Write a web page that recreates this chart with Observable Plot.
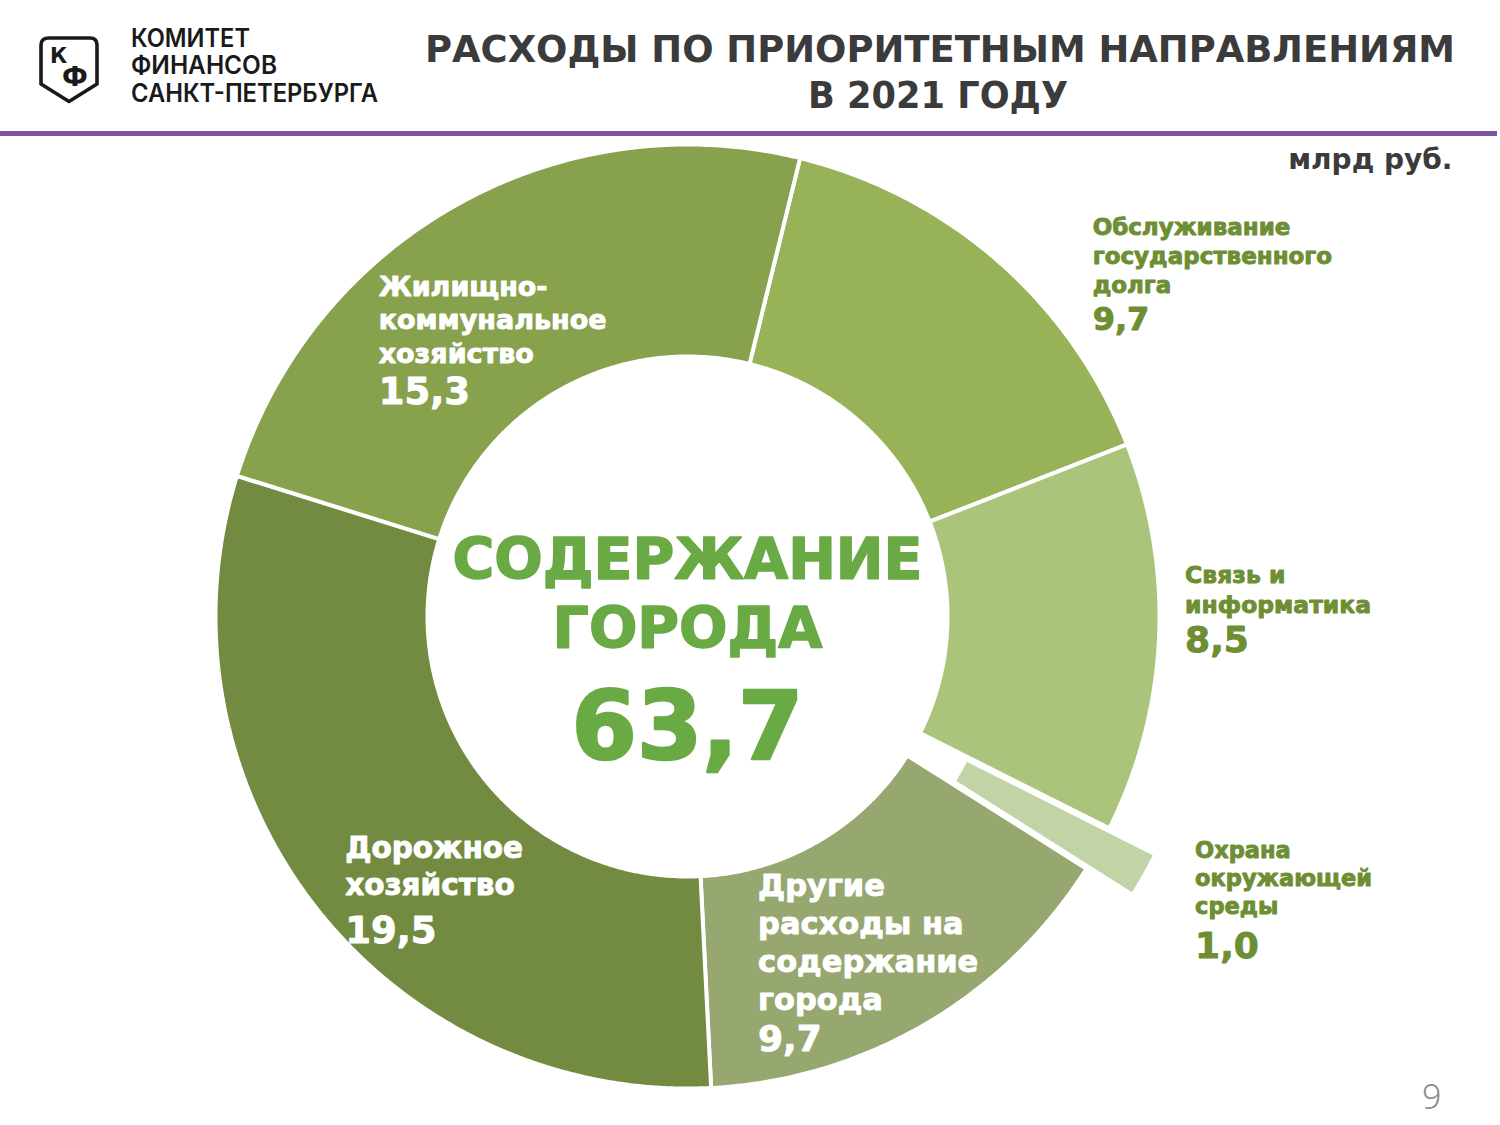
<!DOCTYPE html>
<html>
<head>
<meta charset="utf-8">
<script src="https://cdn.jsdelivr.net/npm/d3@7"></script>
<script src="https://cdn.jsdelivr.net/npm/@observablehq/plot@0.6"></script>
<style>
  html, body { margin: 0; padding: 0; background: #ffffff; }
  #page { position: relative; width: 1500px; height: 1125px; overflow: hidden; background: #ffffff; }
  #header { position: absolute; left: 0; top: 0; }
  #chart { position: absolute; left: 0; top: 140px; }
</style>
</head>
<body>
<div id="page">
  <svg id="header" width="1500" height="140" viewBox="0 0 1500 140" xmlns="http://www.w3.org/2000/svg">
    <path d="M49,38 H90 Q97,38 97,45 V84 L69,101.5 L41,84 V45 Q41,38 49,38 Z" fill="none" stroke="#1a1a1a" stroke-width="3.6" stroke-linejoin="round"/>
    <text font-family="DejaVu Sans" font-weight="bold" fill="#1a1a1a"><tspan x="50" y="63" font-size="21">К</tspan><tspan x="62" y="86" font-size="26">Ф</tspan></text>
    <g font-family="Inter, 'Noto Sans', sans-serif" font-weight="600" font-size="25" fill="#1a1a1a">
      <text x="131" y="47" textLength="119" lengthAdjust="spacingAndGlyphs">КОМИТЕТ</text>
      <text x="131" y="74" textLength="146" lengthAdjust="spacingAndGlyphs">ФИНАНСОВ</text>
      <text x="131" y="101.5" textLength="247" lengthAdjust="spacingAndGlyphs">САНКТ-ПЕТЕРБУРГА</text>
    </g>
    <g font-family="DejaVu Sans" font-weight="bold" font-size="37" fill="#3b3b3b" text-anchor="middle">
      <text x="940" y="62" textLength="1030" lengthAdjust="spacingAndGlyphs">РАСХОДЫ ПО ПРИОРИТЕТНЫМ НАПРАВЛЕНИЯМ</text>
      <text x="938" y="108" textLength="260" lengthAdjust="spacingAndGlyphs">В 2021 ГОДУ</text>
    </g>
    <rect x="0" y="131" width="1497" height="5" fill="#7b54a2"/>
  </svg>
  <div id="chart"></div>
</div>
<script>
// ---------- DATA ----------
const categories = [
  "Обслуживание государственного долга",
  "Связь и информатика",
  "Охрана окружающей среды",
  "Другие расходы на содержание города",
  "Дорожное хозяйство",
  "Жилищно-коммунальное хозяйство"
];
const labelTexts = [
  "Обслуживание\nгосударственного\nдолга",
  "Связь и\nинформатика",
  "Охрана\nокружающей\nсреды",
  "Другие\nрасходы на\nсодержание\nгорода",
  "Дорожное\nхозяйство",
  "Жилищно-\nкоммунальное\nхозяйство"
];
const values = [9.7, 8.5, 1.0, 9.7, 19.5, 15.3];
const centerTitle = "СОДЕРЖАНИЕ\nГОРОДА";
const unitLabel = "млрд руб.";
const pageNumber = "9";

// ---------- STYLE / LAYOUT ----------
const sliceColors = ["#98b258", "#abc47b", "#c2d3a6", "#97a770", "#728b40", "#87a14d"];
const explodePx = [0, 0, 53, 0, 0, 0];
const labelInside = [false, false, false, true, true, true];
// offsets (px) of label start / first baseline / value baseline from slice centroid
const labelDx = [164, 132, 189, -114, -53, -129];
const labelB1 = [-106, -50, 61, -37, 17, -2];
const valueB  = [-11, 19, 161, 118, 102, 106];
const labelFs = [23, 23.5, 22.5, 30.5, 29.5, 27];
const valueFs = [32, 36, 36, 36, 37, 37];
const LH = 1.25;
const W = 1500, H = 985, CX = 687, CY = 476;
const R_OUT = 472, R_IN = 260, R_LABEL = 366;
const START = 13.8 * Math.PI / 180;
const outsideColor = "#6d8e33";
const centerColor = "#6aaa45";
const fmt = v => v.toFixed(1).replace(".", ",");

// ---------- GEOMETRY FROM DATA ----------
const total = d3.sum(values);
let acc = START;
const slices = values.map((v, i) => {
  const a0 = acc, a1 = acc + v / total * 2 * Math.PI;
  acc = a1;
  const mid = (a0 + a1) / 2;
  return {i, cat: categories[i], v, a0, a1, mid,
          ox: explodePx[i] * Math.sin(mid), oy: explodePx[i] * Math.cos(mid)};
});
const pts = [];
for (const s of slices) {
  const n = Math.max(2, Math.ceil((s.a1 - s.a0) / (Math.PI / 360)));
  const ring = [];
  for (let k = 0; k <= n; k++) { const a = s.a0 + (s.a1 - s.a0) * k / n; ring.push([R_OUT * Math.sin(a), R_OUT * Math.cos(a)]); }
  for (let k = n; k >= 0; k--) { const a = s.a0 + (s.a1 - s.a0) * k / n; ring.push([R_IN * Math.sin(a), R_IN * Math.cos(a)]); }
  ring.push(ring[0]);
  ring.forEach(([x, y], j) => pts.push({cat: s.cat, j, x: x + s.ox, y: y + s.oy}));
}
const labels = slices.map(s => {
  const cx = R_LABEL * Math.sin(s.mid), cy = R_LABEL * Math.cos(s.mid);
  return {
    cat: s.cat, inside: labelInside[s.i],
    text: labelTexts[s.i], value: fmt(s.v),
    fs: labelFs[s.i], vfs: valueFs[s.i],
    x: cx + labelDx[s.i],
    y: cy - (labelB1[s.i] - 0.71 * LH * labelFs[s.i]),
    vy: cy - valueB[s.i]
  };
});

const textCommon = {fontFamily: "DejaVu Sans", fontWeight: "bold", textAnchor: "start", strokeWidth: 0.9};

const chart = Plot.plot({
  width: W, height: H,
  margin: 0,
  x: {domain: [-CX, W - CX], axis: null},
  y: {domain: [-(H - CY), CY], axis: null},
  color: {domain: categories, range: sliceColors},
  style: {background: "white", fontFamily: "DejaVu Sans", overflow: "visible"},
  marks: [
    Plot.line(pts, {x: "x", y: "y", z: "cat", fill: "cat", stroke: "white", strokeWidth: 4, strokeLinejoin: "miter", curve: "linear"}),
    // names
    Plot.text(labels.filter(d => d.inside), {...textCommon, x: "x", y: "y", text: "text", fontSize: "fs", lineAnchor: "top", lineHeight: LH, fill: "white", stroke: "white"}),
    Plot.text(labels.filter(d => !d.inside), {...textCommon, x: "x", y: "y", text: "text", fontSize: "fs", lineAnchor: "top", lineHeight: LH, fill: outsideColor, stroke: outsideColor}),
    // values
    Plot.text(labels.filter(d => d.inside), {...textCommon, x: "x", y: "vy", text: "value", fontSize: "vfs", lineAnchor: "bottom", fill: "white", stroke: "white"}),
    Plot.text(labels.filter(d => !d.inside), {...textCommon, x: "x", y: "vy", text: "value", fontSize: "vfs", lineAnchor: "bottom", fill: outsideColor, stroke: outsideColor}),
    // center
    Plot.text([centerTitle], {x: 0, y: -31, text: d => d, fontFamily: "DejaVu Sans", fontWeight: "bold", fontSize: 57, lineHeight: 1.21, lineAnchor: "bottom", textAnchor: "middle", fill: centerColor, stroke: centerColor, strokeWidth: 1.6}),
    Plot.text([fmt(total)], {x: 0, y: -142, text: d => d, fontFamily: "DejaVu Sans", fontWeight: "bold", fontSize: 94, lineAnchor: "bottom", textAnchor: "middle", fill: centerColor, stroke: centerColor, strokeWidth: 2.5}),
    // unit and page number
    Plot.text([unitLabel], {frameAnchor: "top-right", text: d => d, dx: -48, dy: 9, fontFamily: "DejaVu Sans", fontWeight: "bold", fontSize: 28, fill: "#3b3b3b"}),
    Plot.text([pageNumber], {frameAnchor: "bottom-right", text: d => d, dx: -59, dy: -17, fontFamily: "Noto Sans", fontWeight: 300, fontSize: 34, fill: "#8c8c8c"})
  ]
});
document.getElementById("chart").appendChild(chart);
</script>
</body>
</html>
